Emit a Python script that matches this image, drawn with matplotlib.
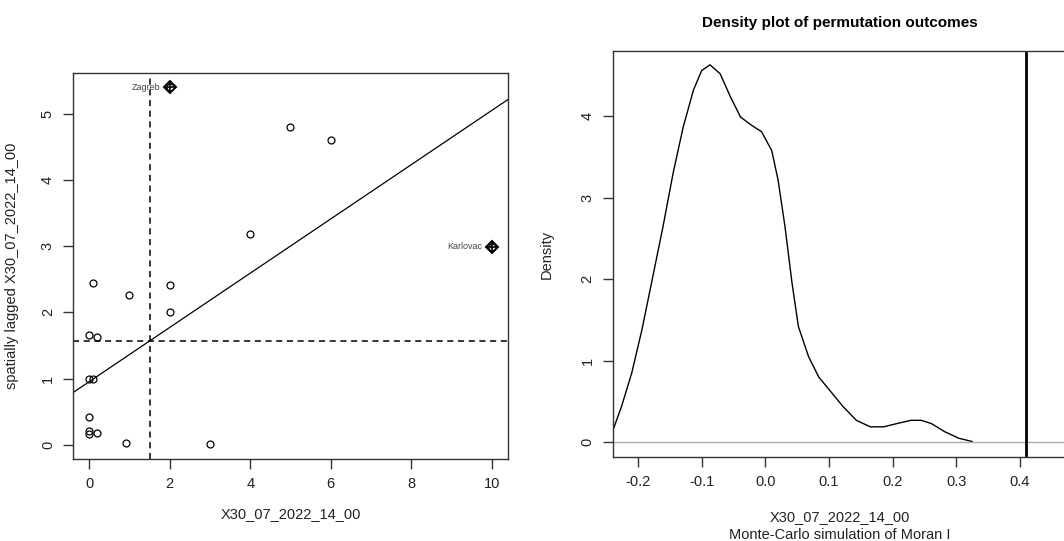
import numpy as np
import matplotlib.pyplot as plt

plt.rcParams['font.family'] = ['Liberation Sans', 'DejaVu Sans']

# --- Moran scatterplot data ---
x_vals = [2.0, 5.0, 6.0, 4.0, 10.0, 0.1, 1.0, 2.0, 2.0, 0.0, 0.2, 0.0, 0.1,
          0.0, 0.0, 0.0, 0.2, 0.92, 3.0]
lag_vals = [5.40, 4.80, 4.60, 3.19, 2.99, 2.44, 2.26, 2.41, 2.01, 1.66, 1.62,
            0.99, 0.99, 0.42, 0.21, 0.16, 0.17, 0.03, 0.015]
infl_names = ["Zagreb", "Karlovac"]
infl_x = [2.0, 10.0]
infl_y = [5.40, 2.99]
x_mean = 1.51
lag_mean = 1.57
moran_i = 0.41
var_name = "X30_07_2022_14_00"

# --- permutation density ---
dens_x = [-0.239, -0.226, -0.21, -0.194, -0.178, -0.161, -0.145, -0.129, -0.113,
          -0.1, -0.087, -0.071, -0.055, -0.039, -0.022, -0.006, 0.010, 0.020,
          0.031, 0.042, 0.052, 0.068, 0.084, 0.101, 0.122, 0.143, 0.165, 0.186,
          0.207, 0.229, 0.245, 0.261, 0.282, 0.304, 0.325]
dens_y = [0.16, 0.44, 0.85, 1.38, 1.99, 2.64, 3.30, 3.87, 4.32, 4.56, 4.63, 4.52,
          4.24, 3.99, 3.89, 3.81, 3.58, 3.22, 2.64, 1.95, 1.42, 1.05, 0.80, 0.64,
          0.44, 0.27, 0.19, 0.19, 0.23, 0.27, 0.27, 0.23, 0.13, 0.05, 0.01]

fig = plt.figure(figsize=(10.64, 5.41), dpi=100)
ax1 = fig.add_axes([0.0686, 0.1516, 0.4088, 0.7135])
ax2 = fig.add_axes([0.5758, 0.1553, 0.4263, 0.7505])

txt_col = "#222222"
for ax in (ax1, ax2):
    for s in ax.spines.values():
        s.set_color("#333333")
        s.set_linewidth(1.0)
    ax.tick_params(length=7, width=1, color="#333333", labelsize=10.5,
                   labelcolor=txt_col, pad=6)

# ---- left: Moran scatterplot ----
ax1.plot(x_vals, lag_vals, 'o', mfc='none', mec='black', ms=5, mew=0.9)
ax1.plot(infl_x, infl_y, 'D', mfc='none', mec='black', ms=6, mew=1.4)
ax1.plot(infl_x, infl_y, '+', color='black', ms=7, mew=1.2)
for name, xx, yy in zip(infl_names, infl_x, infl_y):
    ax1.annotate(name, (xx, yy), xytext=(-7, 0), textcoords='offset points',
                 ha='right', va='center', fontsize=6.5, color='#444444')
ax1.axline((0, lag_mean - moran_i * x_mean), slope=moran_i, color='black', lw=0.9)
ax1.axvline(x_mean, color='black', lw=1.1, ls=(0, (4, 3)))
ax1.axhline(lag_mean, color='black', lw=1.1, ls=(0, (4, 3)))
ax1.set_xlim(-0.4, 10.4)
ax1.set_ylim(-0.216, 5.616)
ax1.set_xticks([0, 2, 4, 6, 8, 10])
ax1.set_yticks([0, 1, 2, 3, 4, 5])
for lab in ax1.get_yticklabels():
    lab.set_rotation(90)
    lab.set_va('center')
ax1.set_xlabel(var_name, fontsize=10.5, color=txt_col)
ax1.set_ylabel("spatially lagged " + var_name, fontsize=10.5, color=txt_col)
ax1.xaxis.set_label_coords(0.5, -0.125)
ax1.yaxis.set_label_coords(-0.125, 0.5)

# ---- right: density of permutation outcomes ----
ax2.plot(dens_x, dens_y, color='black', lw=1.0)
ax2.axhline(0, color='#aaaaaa', lw=1.0)
ax2.axvline(moran_i, color='black', lw=2.0)
ax2.set_xlim(-0.24, 0.473)
ax2.set_ylim(-0.18, 4.80)
ax2.set_xticks([-0.2, -0.1, 0.0, 0.1, 0.2, 0.3, 0.4])
ax2.set_xticklabels(["-0.2", "-0.1", "0.0", "0.1", "0.2", "0.3", "0.4"])
ax2.set_yticks([0, 1, 2, 3, 4])
for lab in ax2.get_yticklabels():
    lab.set_rotation(90)
    lab.set_va('center')
ax2.text(0.5, -0.148, var_name, transform=ax2.transAxes, ha='center',
         va='center', fontsize=10.5, color=txt_col)
ax2.text(0.5, -0.192, "Monte-Carlo simulation of Moran I", transform=ax2.transAxes,
         ha='center', va='center', fontsize=10.5, color=txt_col)
ax2.set_ylabel("Density", fontsize=10.5, color=txt_col)
ax2.yaxis.set_label_coords(-0.13, 0.5)
ax2.set_title("Density plot of permutation outcomes", fontsize=11,
              fontweight='bold', pad=17)

fig.savefig("out.png", dpi=100)
